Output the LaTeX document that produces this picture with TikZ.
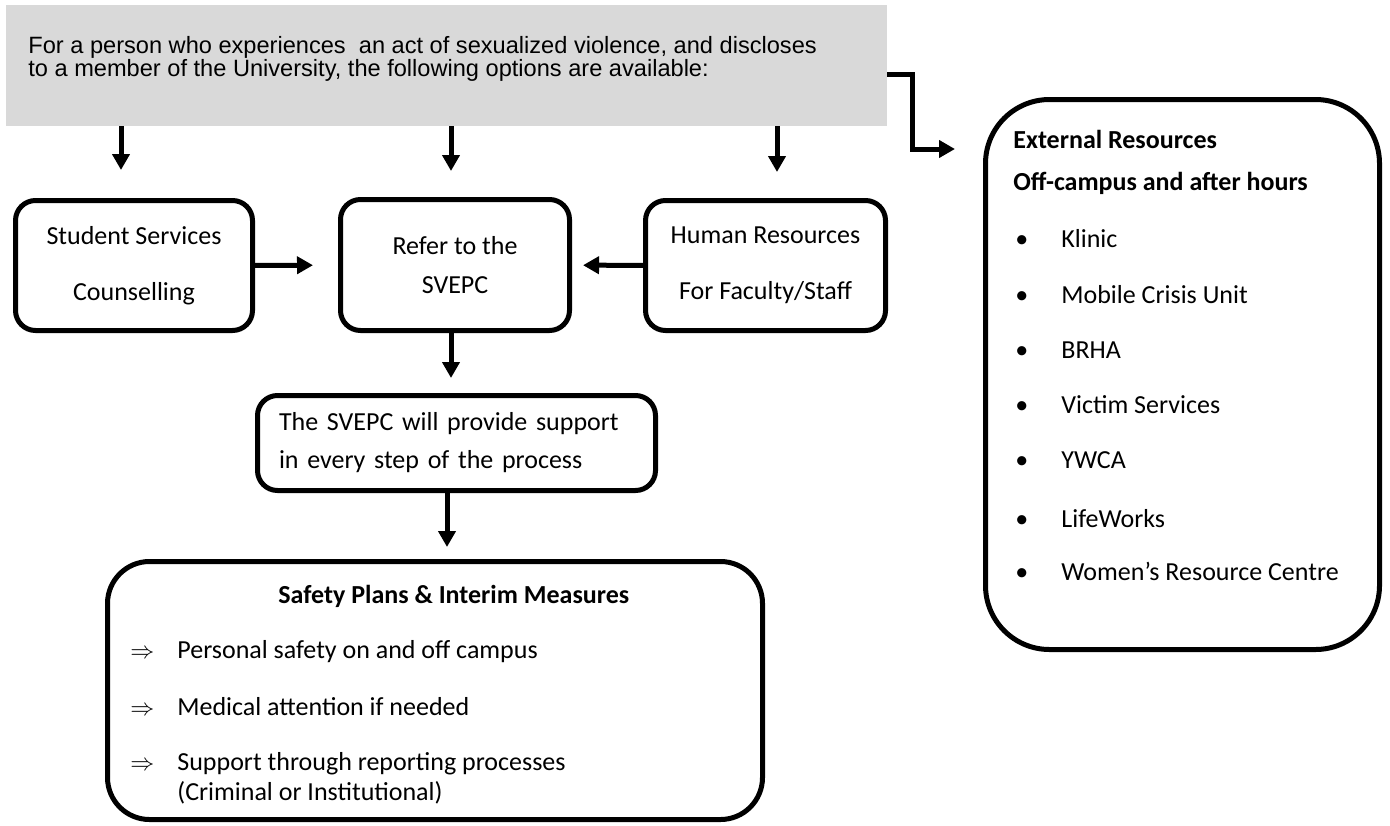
\documentclass[tikz,border=0pt]{standalone}
\usepackage{fontspec}
\setmainfont{Carlito}
\newfontfamily\arialfont{Liberation Sans}
\usetikzlibrary{arrows.meta, positioning}
\definecolor{cgray}{HTML}{D9D9D9}

\begin{document}
\begin{tikzpicture}[
  x=0.5pt, y=-0.5pt,
  font=\fontsize{13pt}{28pt}\selectfont,
  >={Triangle[length=8pt, width=8.5pt]},
  box/.style={draw, line width=2.5pt, rounded corners=10pt, align=center,
              inner sep=0pt},
  bigbox/.style={box, rounded corners=21pt},
  arr/.style={->, line width=2.5pt},
  txt/.style={anchor=base west, inner sep=0pt, align=left},
  ]
\useasboundingbox (0,0) rectangle (1390,825);

% top banner
\node[fill=cgray, inner sep=0pt, minimum width=440.5pt, minimum height=60.5pt]
  (intro) at (446.5,65.5) {};
\node[txt, font=\arialfont\fontsize{11.8pt}{11.5pt}\selectfont] (introtxt) at (28,76)
  {For a person who experiences\ \ an act of sexualized violence, and discloses\\
   to a member of the University, the following options are available:};

% first row
\node[box, minimum width=118.5pt, minimum height=65pt] (stu) at (134,265.5)
  {Student Services\\Counselling};
\node[box, minimum width=114.5pt, minimum height=65.5pt,
      font=\fontsize{13pt}{19.5pt}\selectfont] (refer) at (455,265)
  {Refer to the\\SVEPC};
\node[box, minimum width=120pt, minimum height=65pt] (hr) at (765.5,265.5)
  {Human Resources\\For Faculty/Staff};

% support box
\node[box, minimum width=199pt, minimum height=47.5pt, text width=177.5pt,
      align=left, font=\fontsize{13pt}{19pt}\selectfont] (svepc) at (456.5,443)
  {The SVEPC will provide support\\in every step of the process};

% safety plans
\node[bigbox, minimum width=327.5pt, minimum height=129pt] (safety) at (435,690.5) {};
\node[txt, font=\fontsize{13pt}{15pt}\selectfont\bfseries] (safetitle) at (278,603)
  {Safety Plans \& Interim Measures};
\node[txt] (s1) at (130,658) {\makebox[23.5pt][l]{$\Rightarrow$}Personal safety on and off campus};
\node[txt] (s2) at (130,715) {\makebox[23.5pt][l]{$\Rightarrow$}Medical attention if needed};
\node[txt, font=\fontsize{13pt}{15pt}\selectfont] (s3) at (130,800)
  {\makebox[23.5pt][l]{$\Rightarrow$}Support through reporting processes\\
   \hspace*{23.5pt}(Criminal or Institutional)};

% external resources
\node[box, rounded corners=32pt, minimum width=197pt, minimum height=275pt]
  (ext) at (1182.5,374.5) {};
\node[txt, font=\fontsize{13pt}{21pt}\selectfont\bfseries] (exttitle) at (1013,190)
  {External Resources\\Off-campus and after hours};
\node[txt] (e1) at (1015,247) {\makebox[23pt][l]{\textbullet}Klinic};
\node[txt] (e2) at (1015,303) {\makebox[23pt][l]{\textbullet}Mobile Crisis Unit};
\node[txt] (e3) at (1015,358) {\makebox[23pt][l]{\textbullet}BRHA};
\node[txt] (e4) at (1015,413) {\makebox[23pt][l]{\textbullet}Victim Services};
\node[txt] (e5) at (1015,468) {\makebox[23pt][l]{\textbullet}YWCA};
\node[txt] (e6) at (1015,527) {\makebox[23pt][l]{\textbullet}LifeWorks};
\node[txt] (e7) at (1015,580) {\makebox[23pt][l]{\textbullet}Women’s Resource Centre};

% arrow ends
\coordinate (t1) at (121,170);
\coordinate (t2) at (451,171);
\coordinate (t3) at (777,172);
\coordinate (t4) at (451,378);
\coordinate (t5) at (447,547);
\coordinate (bend) at (912,74);
\coordinate (extin) at (955,149);

\draw[arr] (intro.south -| t1) -- (t1);
\draw[arr] (intro.south -| t2) -- (t2);
\draw[arr] (intro.south -| t3) -- (t3);
\draw[arr] (intro.east |- bend) -- (bend) |- (extin);

\draw[arr, shorten >=12.5pt] (stu) -- (refer);
\draw[arr, shorten >=5.5pt] (hr) -- (refer);
\draw[arr] (refer.south -| t4) -- (t4);
\draw[arr] (svepc.south -| t5) -- (t5);
\end{tikzpicture}
\end{document}
